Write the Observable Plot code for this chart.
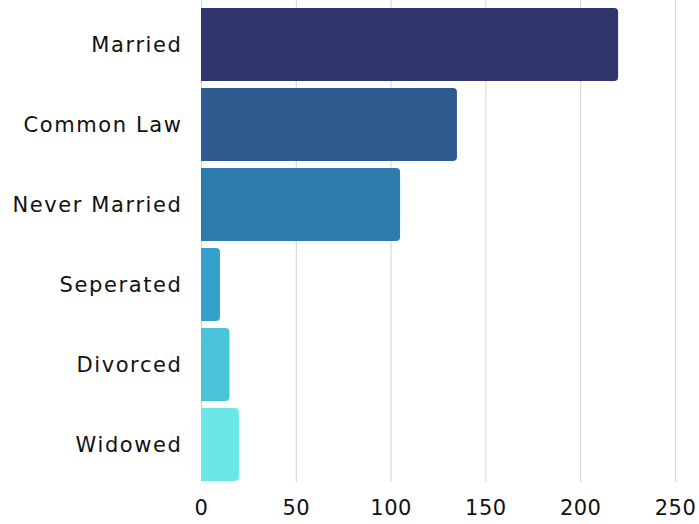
<!DOCTYPE html>
<html>
<head>
<meta charset="utf-8">
<script src="https://cdn.jsdelivr.net/npm/d3@7"></script>
<script src="https://cdn.jsdelivr.net/npm/@observablehq/plot@0.6"></script>
<style>
  html, body { margin: 0; padding: 0; background: #fff; }
  #chart svg { display: block; }
  .yax text { letter-spacing: 1.6px; }
  .xax text { letter-spacing: 0.5px; }
</style>
</head>
<body>
<div id="chart"></div>
<script>
const categories = ["Married", "Common Law", "Never Married", "Seperated", "Divorced", "Widowed"];
const counts = [220, 135, 105, 10, 15, 20];
const colors = ["#30356D", "#2F5A8F", "#2E7BAE", "#339FCB", "#4BC3D8", "#6DE6E8"];
const xTicks = [0, 50, 100, 150, 200, 250];

const data = categories.map((c, i) => ({category: c, count: counts[i], color: colors[i]}));

const font = "'DejaVu Sans', sans-serif";

const chart = Plot.plot({
  width: 699,
  height: 524,
  marginLeft: 201,
  marginRight: 24,
  marginTop: 0,
  marginBottom: 42,
  style: {fontFamily: font, fontSize: "21px", color: "#111", background: "#fff"},
  x: {domain: [0, 250], ticks: xTicks, label: null},
  y: {domain: categories, range: [0, 489], padding: 0.09, label: null},
  marks: [
    Plot.ruleX(xTicks, {stroke: "#d3d3d3", strokeWidth: 1}),
    Plot.barX(data, {y: "category", x: "count", fill: "color", rx: 4}),
    Plot.barX(data, {y: "category", x1: 0, x2: d => d.count / 2, fill: "color"}),
    Plot.axisX({ticks: xTicks, tickSize: 0, tickPadding: 18, fontSize: 21, label: null, className: "xax"}),
    Plot.axisY({tickSize: 0, tickPadding: 19, fontSize: 21, label: null, className: "yax"})
  ]
});

document.getElementById("chart").appendChild(chart);
</script>
</body>
</html>
